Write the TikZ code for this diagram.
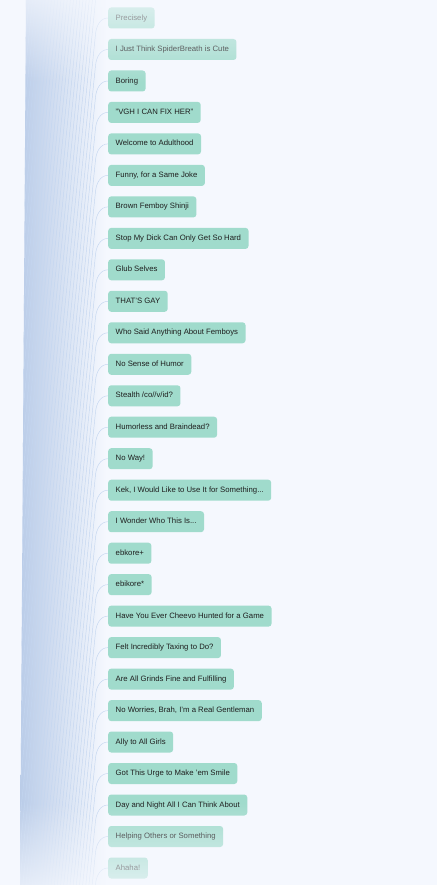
\documentclass[tikz,border=0pt]{standalone}
\usepackage{fontspec}
\setmainfont{Liberation Sans}
\usetikzlibrary{fadings}

\definecolor{pagebg}{HTML}{F5F8FE}
\definecolor{bandblue}{HTML}{BACCE8}
\definecolor{twigblue}{HTML}{C4D6F0}
\definecolor{leafgreen}{HTML}{A0DBCC}
\definecolor{leaftext}{HTML}{1E1E1E}

% the ramp of a top/bottom colour fading only fills its middle half
\tikzfading[name=fadedown, top color=transparent!4, bottom color=transparent!100]
\tikzfading[name=fadeup, bottom color=transparent!4, top color=transparent!100]

\begin{document}
\begin{tikzpicture}[
    x=1pt, y=-1pt,
    leaf/.style={
        rectangle,
        rounded corners=3pt,
        fill=leafgreen,
        text=leaftext,
        anchor=west,
        minimum height=21pt,
        inner xsep=7.5pt,
        inner ysep=0pt,
        text height=5.7pt,
        text depth=1.6pt,
        font=\fontsize{7.75}{9}\selectfont
    },
    twig/.style={
        draw=twigblue,
        line width=0.45pt
    }
]

    % 背景 (Background)
    \useasboundingbox (0,0) rectangle (437,885);
    \fill[pagebg] (0,0) rectangle (437,885);
    \shade[left color=bandblue, middle color=bandblue!72!pagebg, right color=pagebg]
        (26,0) -- (106,0) -- (106,885) -- (20,885) -- cycle;

    % 叶节点 (Leaves)
    \node[leaf] (prec)      at (108, 18.0)  {Precisely};
    \node[leaf] (cute)      at (108, 49.5)  {I Just Think SpiderBreath is Cute};
    \node[leaf] (boring)    at (108, 81.0)  {Boring};
    \node[leaf] (fixher)    at (108, 112.4) {"VGH I CAN FIX HER"};
    \node[leaf] (adult)     at (108, 143.9) {Welcome to Adulthood};
    \node[leaf] (funny)     at (108, 175.4) {Funny, for a Same Joke};
    \node[leaf] (shinji)    at (108, 206.9) {Brown Femboy Shinji};
    \node[leaf] (stopdick)  at (108, 238.4) {Stop My Dick Can Only Get So Hard};
    \node[leaf] (glub)      at (108, 269.8) {Glub Selves};
    \node[leaf] (gay)       at (108, 301.3) {THAT'S GAY};
    \node[leaf] (femboys)   at (108, 332.8) {Who Said Anything About Femboys};
    \node[leaf] (humor)     at (108, 364.3) {No Sense of Humor};
    \node[leaf] (stealth)   at (108, 395.8) {Stealth /co//v/id?};
    \node[leaf] (braindead) at (108, 427.2) {Humorless and Braindead?};
    \node[leaf] (noway)     at (108, 458.7) {No Way!};
    \node[leaf] (kek)       at (108, 490.2) {Kek, I Would Like to Use It for Something...};
    \node[leaf] (wonder)    at (108, 521.7) {I Wonder Who This Is...};
    \node[leaf] (ebkore)    at (108, 553.2) {ebkore+};
    \node[leaf] (ebikore)   at (108, 584.6) {ebikore*};
    \node[leaf] (cheevo)    at (108, 616.1) {Have You Ever Cheevo Hunted for a Game};
    \node[leaf] (taxing)    at (108, 647.6) {Felt Incredibly Taxing to Do?};
    \node[leaf] (grinds)    at (108, 679.1) {Are All Grinds Fine and Fulfilling};
    \node[leaf] (gentleman) at (108, 710.6) {No Worries, Brah, I'm a Real Gentleman};
    \node[leaf] (ally)      at (108, 742.0) {Ally to All Girls};
    \node[leaf] (urge)      at (108, 773.5) {Got This Urge to Make 'em Smile};
    \node[leaf] (daynight)  at (108, 805.0) {Day and Night All I Can Think About};
    \node[leaf] (helping)   at (108, 836.5) {Helping Others or Something};
    \node[leaf] (ahaha)     at (108, 868.0) {Ahaha!};

    % 连线的下端 (free ends below the page)
    \coordinate (e0)  at (8.7, 900);
    \coordinate (e1)  at (11.9, 900);
    \coordinate (e2)  at (15.0, 900);
    \coordinate (e3)  at (18.1, 900);
    \coordinate (e4)  at (21.3, 900);
    \coordinate (e5)  at (24.4, 900);
    \coordinate (e6)  at (27.6, 900);
    \coordinate (e7)  at (30.7, 900);
    \coordinate (e8)  at (33.9, 900);
    \coordinate (e9)  at (37.0, 900);
    \coordinate (e10) at (40.2, 900);
    \coordinate (e11) at (43.3, 900);
    \coordinate (e12) at (46.5, 900);
    \coordinate (e13) at (49.6, 900);
    \coordinate (e14) at (52.8, 900);
    \coordinate (e15) at (55.9, 900);
    \coordinate (e16) at (59.1, 900);
    \coordinate (e17) at (62.2, 900);
    \coordinate (e18) at (65.4, 900);
    \coordinate (e19) at (68.5, 900);
    \coordinate (e20) at (71.7, 900);
    \coordinate (e21) at (74.8, 900);
    \coordinate (e22) at (78.0, 900);
    \coordinate (e23) at (81.1, 900);
    \coordinate (e24) at (84.3, 900);
    \coordinate (e25) at (87.4, 900);
    \coordinate (e26) at (90.6, 900);
    \coordinate (e27) at (93.7, 900);

    % 连线 (only inside the band)
    \begin{scope}
        \clip (26,0) -- (108,0) -- (108,885) -- (20,885) -- cycle;
        % branches of leaves above the page
        \foreach \k in {1,...,26}
            \draw[twig] ({98.7-3.15*\k}, 0) -- ({8.7-3.15*\k}, 900);
        \draw[twig] (prec.west)      to[out=180, in=84] ++(-12.5,16) -- (e0);
        \draw[twig] (cute.west)      to[out=180, in=84] ++(-12.5,16) -- (e1);
        \draw[twig] (boring.west)    to[out=180, in=84] ++(-12.5,16) -- (e2);
        \draw[twig] (fixher.west)    to[out=180, in=84] ++(-12.5,16) -- (e3);
        \draw[twig] (adult.west)     to[out=180, in=84] ++(-12.5,16) -- (e4);
        \draw[twig] (funny.west)     to[out=180, in=84] ++(-12.5,16) -- (e5);
        \draw[twig] (shinji.west)    to[out=180, in=84] ++(-12.5,16) -- (e6);
        \draw[twig] (stopdick.west)  to[out=180, in=84] ++(-12.5,16) -- (e7);
        \draw[twig] (glub.west)      to[out=180, in=84] ++(-12.5,16) -- (e8);
        \draw[twig] (gay.west)       to[out=180, in=84] ++(-12.5,16) -- (e9);
        \draw[twig] (femboys.west)   to[out=180, in=84] ++(-12.5,16) -- (e10);
        \draw[twig] (humor.west)     to[out=180, in=84] ++(-12.5,16) -- (e11);
        \draw[twig] (stealth.west)   to[out=180, in=84] ++(-12.5,16) -- (e12);
        \draw[twig] (braindead.west) to[out=180, in=84] ++(-12.5,16) -- (e13);
        \draw[twig] (noway.west)     to[out=180, in=84] ++(-12.5,16) -- (e14);
        \draw[twig] (kek.west)       to[out=180, in=84] ++(-12.5,16) -- (e15);
        \draw[twig] (wonder.west)    to[out=180, in=84] ++(-12.5,16) -- (e16);
        \draw[twig] (ebkore.west)    to[out=180, in=84] ++(-12.5,16) -- (e17);
        \draw[twig] (ebikore.west)   to[out=180, in=84] ++(-12.5,16) -- (e18);
        \draw[twig] (cheevo.west)    to[out=180, in=84] ++(-12.5,16) -- (e19);
        \draw[twig] (taxing.west)    to[out=180, in=84] ++(-12.5,16) -- (e20);
        \draw[twig] (grinds.west)    to[out=180, in=84] ++(-12.5,16) -- (e21);
        \draw[twig] (gentleman.west) to[out=180, in=84] ++(-12.5,16) -- (e22);
        \draw[twig] (ally.west)      to[out=180, in=84] ++(-12.5,16) -- (e23);
        \draw[twig] (urge.west)      to[out=180, in=84] ++(-12.5,16) -- (e24);
        \draw[twig] (daynight.west)  to[out=180, in=84] ++(-12.5,16) -- (e25);
        \draw[twig] (helping.west)   to[out=180, in=84] ++(-12.5,16) -- (e26);
        \draw[twig] (ahaha.west)     to[out=180, in=84] ++(-12.5,16) -- (e27);
    \end{scope}

    % 上下渐隐 (fade at top and bottom, ramp 0..55 and 830..885)
    \fill[pagebg, path fading=fadedown] (0,-27.5) rectangle (437,82.5);
    \fill[pagebg, path fading=fadeup] (0,802.5) rectangle (437,912.5);

\end{tikzpicture}
\end{document}
